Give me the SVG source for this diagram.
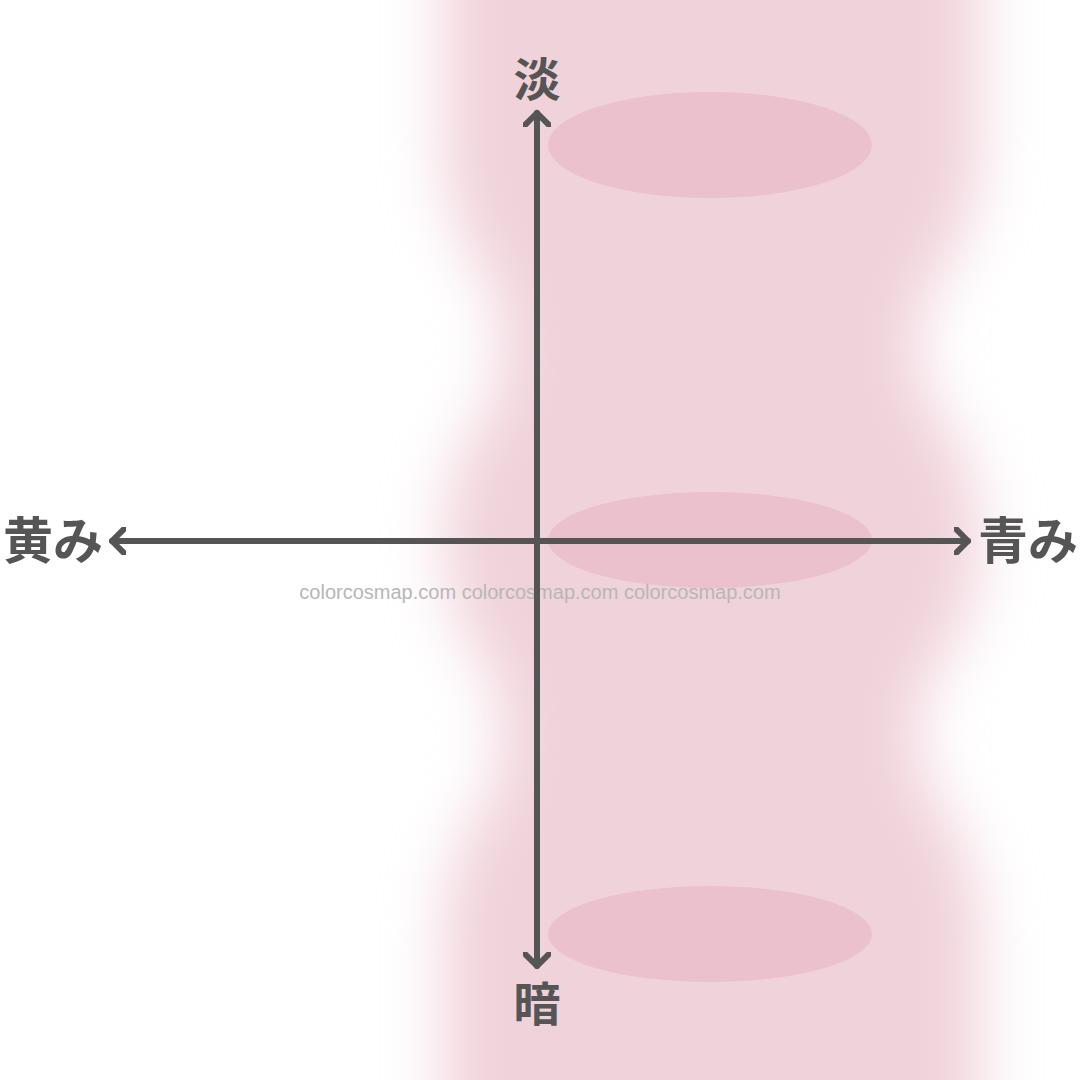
<svg xmlns="http://www.w3.org/2000/svg" width="1080" height="1080" viewBox="0 0 1080 1080">
<defs>
<filter id="blur" x="-50%" y="-50%" width="200%" height="200%"><feGaussianBlur stdDeviation="30"/></filter>
<marker id="chev" viewBox="-14 -14 28 28" markerWidth="28" markerHeight="28" refX="0" refY="0" orient="auto-start-reverse" markerUnits="userSpaceOnUse">
<polyline points="-12,-12 0,0 -12,12" fill="none" stroke="#555555" stroke-width="6" stroke-linecap="round" stroke-linejoin="round"/>
</marker>
<style>
.lbl{font-family:"Noto Sans CJK JP","Noto Sans",sans-serif;font-weight:bold;fill:#555555;}
.wm{font-family:"Liberation Sans",Arial,sans-serif;font-size:20px;fill:#b7b7b7;}
.spot{fill:#eac1cc;}
</style>
</defs>
<rect width="1080" height="1080" fill="#ffffff"/>
<g id="background" filter="url(#blur)" fill="#f0d2da">
<ellipse cx="712" cy="145" rx="268" ry="250"/>
<ellipse cx="712" cy="540" rx="268" ry="240"/>
<ellipse cx="712" cy="935" rx="268" ry="250"/>
<rect x="444" y="-100" width="536" height="245"/>
<rect x="444" y="935" width="536" height="245"/>
<rect x="500" y="-100" width="420" height="1280"/>
</g>
<g id="spots">
<ellipse class="spot" cx="710" cy="145" rx="162" ry="53"/>
<ellipse class="spot" cx="710" cy="540" rx="162" ry="48"/>
<ellipse class="spot" cx="710" cy="934" rx="162" ry="48"/>
</g>
<text class="wm" x="540" y="599" text-anchor="middle">colorcosmap.com colorcosmap.com colorcosmap.com</text>
<g id="connectors" stroke="#555555" stroke-width="6" stroke-linecap="round" fill="none">
<line x1="537" y1="966" x2="537" y2="113" marker-start="url(#chev)" marker-end="url(#chev)"/>
<line x1="112" y1="541" x2="968" y2="541" marker-start="url(#chev)" marker-end="url(#chev)"/>
</g>
<g id="label-top"><text class="lbl" x="537" y="97" font-size="47" text-anchor="middle">淡</text></g>
<g id="label-bottom"><text class="lbl" x="537" y="1021" font-size="47" text-anchor="middle">暗</text></g>
<g id="label-left"><text class="lbl" x="3" y="559" font-size="50">黄み</text></g>
<g id="label-right"><text class="lbl" x="978" y="559" font-size="50">青み</text></g>
</svg>
